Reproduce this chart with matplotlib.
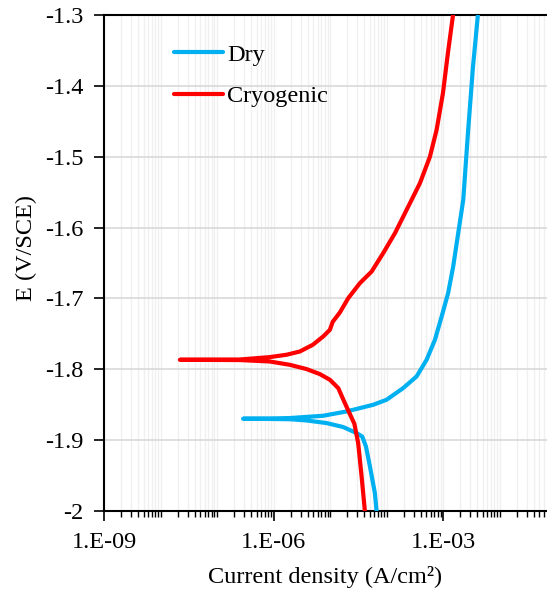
import matplotlib
matplotlib.use("Agg")
import matplotlib.pyplot as plt
from matplotlib.ticker import FixedLocator, NullFormatter, FuncFormatter

plt.rcParams['font.family'] = ['Liberation Serif', 'DejaVu Serif']

# Dry: cathodic branch (bottom -> Ecorr) then anodic branch (Ecorr -> top)
dry_i = [6.62e-5, 6.18e-5, 5.05e-5, 4.3e-5, 3.7e-5, 2.93e-5, 1.70e-5, 8.63e-6,
         3.82e-6, 1.94e-6, 8.57e-7, 2.88e-7,
         8.57e-7, 1.94e-6, 7.52e-6, 1.95e-5, 5.77e-5, 9.95e-5, 1.96e-4, 3.38e-4,
         5.08e-4, 7.13e-4, 9.38e-4, 1.22e-3, 1.50e-3, 1.84e-3, 2.26e-3, 2.74e-3,
         3.36e-3, 4.1e-3]
dry_E = [-2.000, -1.9746, -1.9371, -1.9090, -1.8950, -1.8900, -1.8815, -1.8759,
         -1.8722, -1.8705, -1.8701, -1.8698,
         -1.8695, -1.8688, -1.8656, -1.8595, -1.8501, -1.8430, -1.8265, -1.8101,
         -1.7866, -1.7584, -1.7255, -1.6925, -1.6550, -1.6079, -1.5609, -1.466,
         -1.373, -1.300]

# Cryogenic: cathodic branch then anodic branch
cryo_i = [4.11e-5, 3.60e-5, 3.13e-5, 2.68e-5, 1.82e-5, 1.39e-5, 9.89e-6, 6.58e-6,
          3.82e-6, 1.94e-6, 8.57e-7, 2.52e-7, 2.2e-8,
          2.52e-7, 8.57e-7, 1.69e-6, 2.91e-6, 4.94e-6, 7.52e-6, 9.89e-6, 1.11e-5,
          1.48e-5, 2.09e-5, 3.36e-5, 5.41e-5, 8.67e-5, 1.40e-4, 2.25e-4, 3.87e-4,
          5.82e-4, 7.64e-4, 9.9e-4, 1.21e-3, 1.49e-3]
cryo_E = [-2.000, -1.9512, -1.9041, -1.8769, -1.8477, -1.8265, -1.8148, -1.8068,
          -1.7997, -1.7937, -1.7890, -1.7870, -1.7866,
          -1.7862, -1.7828, -1.7795, -1.7749, -1.7654, -1.7537, -1.7443, -1.733,
          -1.720, -1.6996, -1.6784, -1.6621, -1.6361, -1.6079, -1.5750, -1.5374,
          -1.4999, -1.4620, -1.410, -1.3536, -1.300]

series_labels = ["Dry", "Cryogenic"]
series_colors = ["#00B0F0", "#FF0000"]

x_major = [1e-9, 1e-6, 1e-3]
x_major_labels = ["1.E-09", "1.E-06", "1.E-03"]
y_ticks = [-1.3, -1.4, -1.5, -1.6, -1.7, -1.8, -1.9, -2.0]

fig = plt.figure(figsize=(5.47, 5.94), dpi=100)
ax = fig.add_axes([104/547, 1-511/594, 1-104/547, (511-15)/594])

ax.plot(dry_i, dry_E, color=series_colors[0], lw=3.0, solid_capstyle='round',
        solid_joinstyle='round', label=series_labels[0], zorder=3)
ax.plot(cryo_i, cryo_E, color=series_colors[1], lw=3.0, solid_capstyle='round',
        solid_joinstyle='round', label=series_labels[1], zorder=3)

ax.set_xscale('log')
ax.set_xlim(1e-9, 10**(-9 + (547-104.3)/56.5))
ax.set_ylim(-2.0, -1.3)

ax.xaxis.set_major_locator(FixedLocator(x_major))
ax.set_xticklabels(x_major_labels)
minors = [m * 10.0**e for e in range(-9, 0) for m in range(1, 10)
          if not any(abs(m * 10.0**e - v) / v < 1e-6 for v in x_major)]
ax.xaxis.set_minor_locator(FixedLocator(minors))
ax.xaxis.set_minor_formatter(NullFormatter())

ax.set_yticks(y_ticks)
ax.yaxis.set_major_formatter(FuncFormatter(lambda v, p: "%g" % v))

ax.tick_params(axis='both', which='major', direction='out', length=7, width=1.2,
               labelsize=17.5, pad=8, color='black')
ax.tick_params(axis='x', which='minor', direction='out', length=4.5, width=1.0, color='black')

ax.grid(True, which='major', axis='y', color='#d9d9d9', lw=1.2, zorder=0)
ax.grid(True, which='both', axis='x', color='#f0f0f0', lw=1.0, zorder=0)
ax.set_axisbelow(True)

for s in ['left', 'bottom', 'top']:
    ax.spines[s].set_color('black')
    ax.spines[s].set_linewidth(1.5)
ax.spines['right'].set_visible(False)

ax.set_xlabel("Current density (A/cm²)", fontsize=17.5)
ax.set_ylabel("E (V/SCE)", fontsize=17.5)
ax.xaxis.set_label_coords(0.5, -0.11)
ax.yaxis.set_label_coords(-0.152, 0.53)

ax.legend(frameon=False, loc='upper left', bbox_to_anchor=(0.158, 0.942),
          borderpad=0, borderaxespad=0, handlelength=2.0, handletextpad=0.2,
          labelspacing=0.8, fontsize=17.5)

fig.savefig("out.png", dpi=100)
